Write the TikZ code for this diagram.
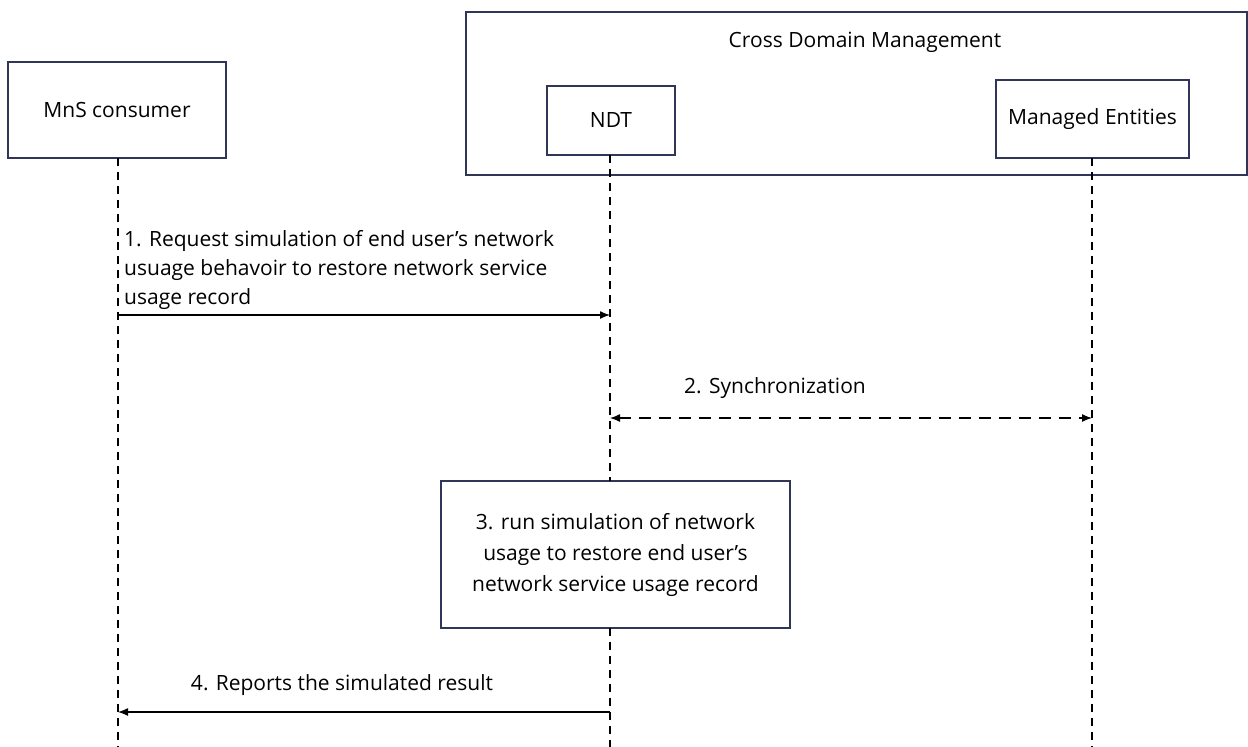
\documentclass[tikz,border=0pt]{standalone}
\usepackage{fontspec}
\setmainfont{Open Sans}
\usetikzlibrary{arrows.meta}

\definecolor{boxline}{RGB}{48,54,88}
\tikzset{
  actor/.style={draw=boxline,line width=1.5pt,rectangle,inner sep=0pt,font=\fontsize{21}{29}\selectfont},
  life/.style={black,line width=1.3pt,dash pattern=on 8pt off 6pt},
  msg/.style={black,line width=1.3pt,-{Latex[length=10pt,width=8pt]}},
  txt/.style={font=\fontsize{21}{29}\selectfont,inner sep=0pt}
}

\begin{document}
\begin{tikzpicture}[x=1pt,y=-1pt]
  \useasboundingbox (0,0) rectangle (1248,747);
  % participants
  \node[actor,minimum width=781,minimum height=163] (cdm) at (856.5,93.5) {};
  \node[txt] (cdmlabel) at (865,42) {Cross Domain Management};
  \node[actor,minimum width=218,minimum height=96] (mns) at (117,110) {MnS consumer};
  \node[actor,minimum width=128,minimum height=69] (ndt) at (611,120.5) {NDT};
  \node[actor,minimum width=193,minimum height=78] (me) at (1092.5,119) {Managed Entities};
  \node[actor,minimum width=349,minimum height=147,align=center,font=\fontsize{21}{31}\selectfont] (run) at (615.5,554.5)
    {3. run simulation of network\\usage to restore end user's\\network service usage record};
  % lifelines
  \coordinate (mnsend) at (118,747);
  \coordinate (ndtend) at (610,747);
  \coordinate (meend) at (1092,747);
  \draw[life] (118,158) -- (mnsend);
  \draw[life] (610,155) -- (610,481);
  \draw[life] (610,628) -- (ndtend);
  \draw[life] (1092,158) -- (meend);
  % messages
  \coordinate (a1) at (118,315);
  \coordinate (b1) at (610,315);
  \draw[msg] (a1) -- (b1);
  \node[txt,anchor=north west,align=left] (m1) at (124,230)
    {1. Request simulation of end user's network\\usuage behavoir to restore network service\\usage record};
  \coordinate (a2) at (610,418);
  \coordinate (b2) at (1092,418);
  \draw[msg,{Latex[length=10pt,width=8pt]}-{Latex[length=10pt,width=8pt]},dash pattern=on 12pt off 8pt] (a2) -- (b2);
  \node[txt] (m2) at (775,388) {2. Synchronization};
  \coordinate (a4) at (610,712);
  \coordinate (b4) at (118,712);
  \draw[msg] (a4) -- (b4);
  \node[txt] (m4) at (342,685) {4. Reports the simulated result};
\end{tikzpicture}
\end{document}
